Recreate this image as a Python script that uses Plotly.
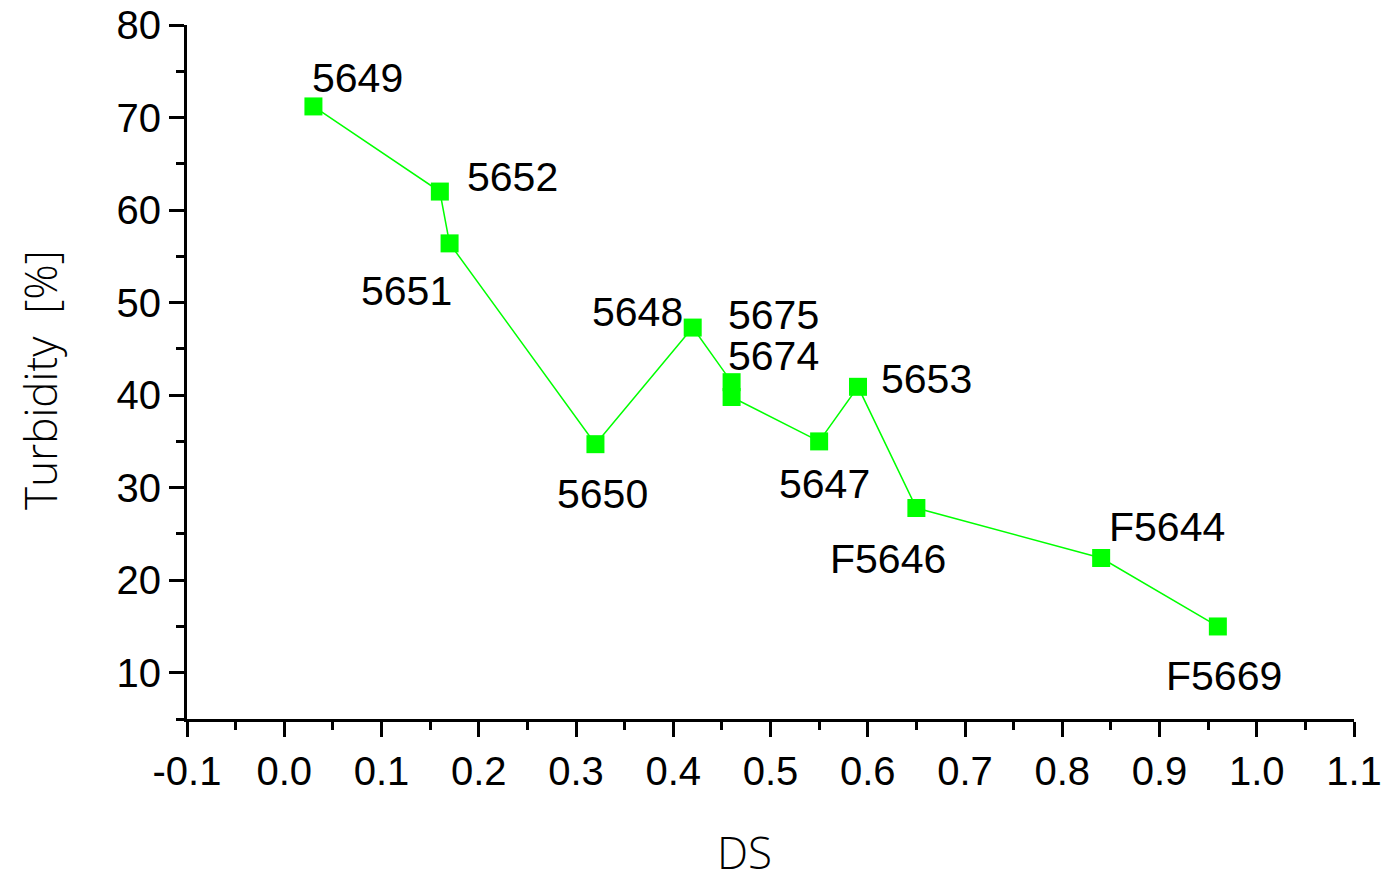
import plotly.graph_objects as go

# Sample data: degree of substitution vs. turbidity
samples = ["5649", "5652", "5651", "5650", "5648", "5675", "5674",
           "5647", "5653", "F5646", "F5644", "F5669"]
ds = [0.03, 0.16, 0.17, 0.32, 0.42, 0.46, 0.46, 0.55, 0.59, 0.65, 0.84, 0.96]
turbidity = [71.2, 62.0, 56.4, 34.7, 47.3, 41.4, 39.8, 35.0, 40.9, 27.8, 22.4, 15.0]

# Axis ticks
x_ticks = [-0.1, 0.0, 0.1, 0.2, 0.3, 0.4, 0.5, 0.6, 0.7, 0.8, 0.9, 1.0, 1.1]
x_tick_labels = ["-0.1", "0.0", "0.1", "0.2", "0.3", "0.4", "0.5",
                 "0.6", "0.7", "0.8", "0.9", "1.0", "1.1"]
y_ticks = [10, 20, 30, 40, 50, 60, 70, 80]

# Pixel offsets of each sample label from its marker (x right, y up)
label_dx = [44, 73, -43, 7, -55, 42, 42, 5, 68, -28, 66, 6]
label_dy = [28, 15, -48, -50, 16, 67, 41, -43, 8, -51, 31, -50]

GREEN = "#00ff00"
tick_font = dict(family="Liberation Sans, Arial, sans-serif", size=40, color="black")
label_font = dict(family="Liberation Sans, Arial, sans-serif", size=41, color="black")
title_font = dict(family="Open Sans, sans-serif", size=44, color="black", weight=300)

fig = go.Figure()
fig.add_trace(go.Scatter(
    x=ds, y=turbidity, mode="lines+markers",
    line=dict(color=GREEN, width=1.5),
    marker=dict(symbol="square", size=18, color=GREEN, line=dict(width=0)),
    showlegend=False, hoverinfo="text", text=samples,
))

for name, xv, yv, dx, dy in zip(samples, ds, turbidity, label_dx, label_dy):
    fig.add_annotation(x=xv, y=yv, text=name, showarrow=False,
                       xshift=dx, yshift=dy, xanchor="center", yanchor="middle",
                       font=label_font)

# Axis titles
fig.add_annotation(x=0.478, y=-0.192, xref="paper", yref="paper", text="DS",
                   showarrow=False, xanchor="center", yanchor="middle", font=title_font)
fig.add_annotation(x=-0.126, y=0.4885, xref="paper", yref="paper", text="Turbidity  [%]",
                   showarrow=False, xanchor="center", yanchor="middle", textangle=-90,
                   font=title_font)

axis_common = dict(
    showgrid=False, zeroline=False, showline=True, linecolor="black", linewidth=3,
    ticks="outside", ticklen=15, tickwidth=3, tickcolor="black", tickfont=tick_font,
    automargin=False,
)
fig.update_xaxes(range=[-0.1, 1.1], tickvals=x_ticks, ticktext=x_tick_labels,
                 minor=dict(dtick=0.05, ticks="outside", ticklen=8, tickwidth=3, tickcolor="black"),
                 **axis_common)
fig.update_yaxes(range=[5, 80], tickvals=y_ticks,
                 minor=dict(dtick=5, ticks="outside", ticklen=8, tickwidth=3, tickcolor="black"),
                 **axis_common)

fig.update_layout(
    width=1383, height=878,
    margin=dict(l=187, r=29, t=25, b=159),
    paper_bgcolor="white", plot_bgcolor="white",
)

fig.write_html("out.html")
